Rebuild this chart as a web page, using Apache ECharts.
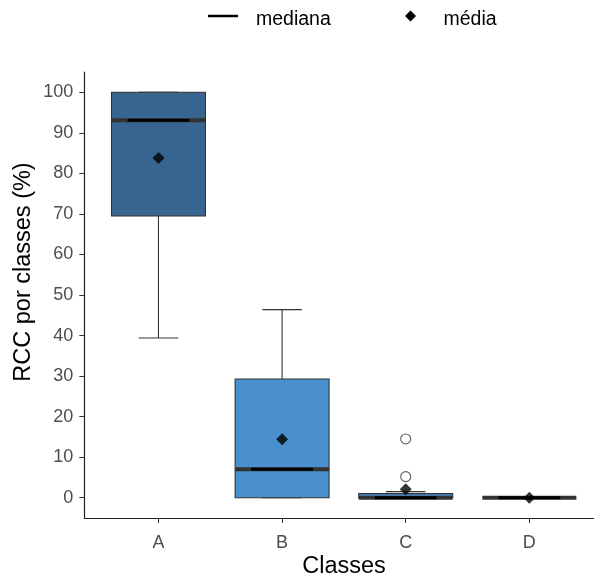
<!DOCTYPE html>
<html>
<head>
<meta charset="utf-8">
<script src="https://cdn.jsdelivr.net/npm/echarts@6/dist/echarts.min.js"></script>
<style>
html,body{margin:0;padding:0;background:#fff;}
#chart{width:594px;height:579px;}
</style>
</head>
<body>
<div id="chart"></div>
<script>
const categories = ['A', 'B', 'C', 'D'];
const whiskerLow = [39.4, 0, 0, 0];
const q1 = [69.5, 0, 0, 0];
const medians = [93.1, 7.0, 0, 0];
const q3 = [100, 29.3, 1.0, 0];
const whiskerHigh = [100, 46.4, 1.5, 0];
const means = [83.8, 14.4, 2.1, 0];
const outlierClass = ['C', 'C'];
const outlierValues = [14.5, 5.2];
const yTicks = [0, 10, 20, 30, 40, 50, 60, 70, 80, 90, 100];
const boxColors = ['#38658F', '#4A90CC', '#4A90CC', '#4A90CC'];

const FONT = "'Liberation Sans', Arial, sans-serif";
const chart = echarts.init(document.getElementById('chart'), null, {renderer: 'canvas'});

const boxData = categories.map((c, i) => [i + 1, whiskerLow[i], q1[i], medians[i], q3[i], whiskerHigh[i]]);
const meanData = categories.map((c, i) => [i + 1, means[i]]);
const outlierData = outlierClass.map((c, i) => [categories.indexOf(c) + 1, outlierValues[i]]);

function renderBox(params, api) {
  const x = api.value(0);
  const pLo = api.coord([x, api.value(1)]);
  const pQ1 = api.coord([x, api.value(2)]);
  const pMed = api.coord([x, api.value(3)]);
  const pQ3 = api.coord([x, api.value(4)]);
  const pHi = api.coord([x, api.value(5)]);
  const boxW = api.size([0.76, 0])[0];
  const capW = api.size([0.32, 0])[0];
  const medW = api.size([0.5, 0])[0];
  const cx = pLo[0];
  const ln = '#333333';
  const children = [
    {type: 'line', shape: {x1: cx, y1: pQ3[1], x2: cx, y2: pHi[1]}, style: {stroke: ln, lineWidth: 1.1}},
    {type: 'line', shape: {x1: cx, y1: pLo[1], x2: cx, y2: pQ1[1]}, style: {stroke: ln, lineWidth: 1.1}},
    {type: 'line', shape: {x1: cx - capW / 2, y1: pHi[1], x2: cx + capW / 2, y2: pHi[1]}, style: {stroke: ln, lineWidth: 1.1}},
    {type: 'line', shape: {x1: cx - capW / 2, y1: pLo[1], x2: cx + capW / 2, y2: pLo[1]}, style: {stroke: ln, lineWidth: 1.1}},
    {type: 'rect', shape: {x: cx - boxW / 2, y: pQ3[1], width: boxW, height: pQ1[1] - pQ3[1]},
      style: {fill: boxColors[params.dataIndex], stroke: ln, lineWidth: 1.1}},
    {type: 'line', shape: {x1: cx - boxW / 2, y1: pMed[1], x2: cx + boxW / 2, y2: pMed[1]}, style: {stroke: ln, lineWidth: 4}},
    {type: 'line', shape: {x1: cx - medW / 2, y1: pMed[1], x2: cx + medW / 2, y2: pMed[1]}, style: {stroke: '#000', lineWidth: 3}}
  ];
  return {type: 'group', children: children};
}

const option = {
  animation: false,
  backgroundColor: '#ffffff',
  grid: {left: 84.3, top: 72, right: 0, height: 446, containLabel: false},
  xAxis: {
    type: 'value', min: 0.4, max: 4.523,
    splitLine: {show: false},
    axisLine: {show: true, onZero: false, lineStyle: {color: '#222', width: 1.2}},
    axisTick: {show: true, length: 5, lineStyle: {color: '#333', width: 1}, customValues: [1, 2, 3, 4]},
    axisLabel: {customValues: [1, 2, 3, 4], formatter: v => categories[Math.round(v) - 1],
      color: '#4D4D4D', fontSize: 18, fontFamily: FONT, margin: 16}
  },
  yAxis: {
    type: 'value', min: -5, max: 105,
    splitLine: {show: false},
    axisLine: {show: true, onZero: false, lineStyle: {color: '#222', width: 1.2}},
    axisTick: {show: true, length: 5, lineStyle: {color: '#333', width: 1}, customValues: yTicks},
    axisLabel: {customValues: yTicks, color: '#4D4D4D', fontSize: 18, fontFamily: FONT, margin: 11}
  },
  graphic: [
    {type: 'line', shape: {x1: 208, y1: 16, x2: 238, y2: 16}, style: {stroke: '#000', lineWidth: 2.5}},
    {type: 'text', style: {x: 256, y: 20, text: 'mediana', font: '19.5px ' + FONT, fill: '#000', align: 'left', verticalAlign: 'middle'}},
    {type: 'polygon', shape: {points: [[410.5, 10.5], [416, 16], [410.5, 21.5], [405, 16]]}, style: {fill: '#000'}},
    {type: 'text', style: {x: 443.5, y: 20, text: 'média', font: '19.5px ' + FONT, fill: '#000', align: 'left', verticalAlign: 'middle'}},
    {type: 'text', rotation: Math.PI / 2, x: 24, y: 272, style: {x: 0, y: 0, text: 'RCC por classes (%)', font: '23.5px ' + FONT, fill: '#000', align: 'center', verticalAlign: 'middle'}},
    {type: 'text', style: {x: 344, y: 567, text: 'Classes', font: '23.5px ' + FONT, fill: '#000', align: 'center', verticalAlign: 'middle'}}
  ],
  series: [
    {type: 'custom', name: 'box', renderItem: renderBox, data: boxData, clip: false, z: 2},
    {type: 'scatter', name: 'outliers', data: outlierData, symbol: 'circle', symbolSize: 10,
      itemStyle: {color: '#fff', borderColor: '#333', borderWidth: 1.1}, z: 3},
    {type: 'scatter', name: 'média', data: meanData, symbol: 'diamond', symbolSize: 12,
      itemStyle: {color: '#000'}, z: 4}
  ]
};
chart.setOption(option);
</script>
</body>
</html>
